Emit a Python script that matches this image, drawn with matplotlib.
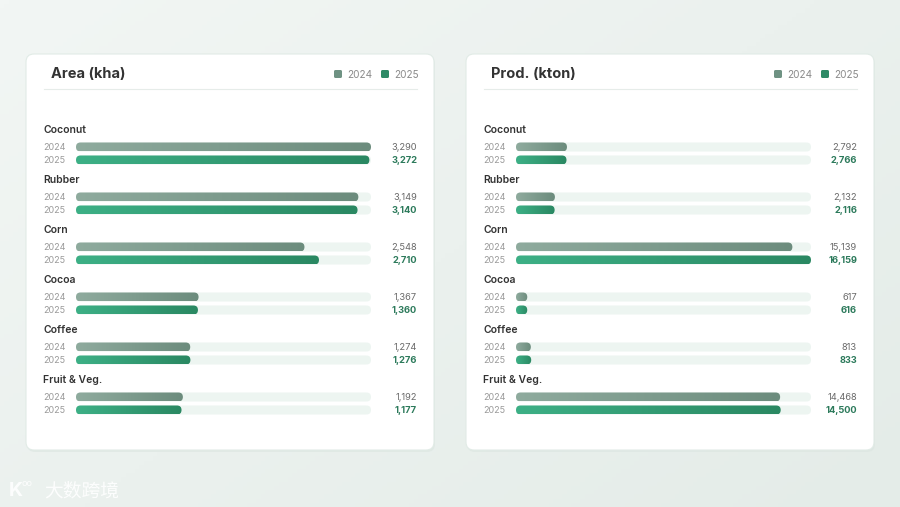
import numpy as np
import matplotlib.pyplot as plt
from matplotlib.patches import FancyBboxPatch
from matplotlib.colors import LinearSegmentedColormap

plt.rcParams['font.family'] = ['Inter', 'Noto Sans CJK SC', 'DejaVu Sans']

crops = ['Coconut', 'Rubber', 'Corn', 'Cocoa', 'Coffee', 'Fruit & Veg.']
years = ['2024', '2025']

area_2024 = [3290, 3149, 2548, 1367, 1274, 1192]
area_2025 = [3272, 3140, 2710, 1360, 1276, 1177]
prod_2024 = [2792, 2132, 15139, 617, 813, 14468]
prod_2025 = [2766, 2116, 16159, 616, 833, 14500]

panels = [
    ('Area (kha)', area_2024, area_2025),
    ('Prod. (kton)', prod_2024, prod_2025),
]

W, H = 900, 507
TRACK_W = 295

grad_24 = LinearSegmentedColormap.from_list('g24', ['#8fab9e', '#6c8c7d'])
grad_25 = LinearSegmentedColormap.from_list('g25', ['#3db086', '#2a8862'])
c24, c25 = '#6f9283', '#2e8a66'
track_c = '#edf5f1'

fig = plt.figure(figsize=(W / 100, H / 100), dpi=100)

# background in pixel coordinates
bg = fig.add_axes([0, 0, 1, 1])
bg.axis('off')
gx, gy = np.meshgrid(np.linspace(0, 1, 200), np.linspace(0, 1, 120))
bg_cmap = LinearSegmentedColormap.from_list('bg', ['#f2f6f4', '#e4ece8'])
bg.imshow(0.55 * gx + 0.45 * gy, cmap=bg_cmap, extent=(0, W, H, 0), aspect='auto', zorder=0)
bg.set_xlim(0, W)
bg.set_ylim(H, 0)


def rounded_bar(ax, x0, y, length, h, cmap, vmax, aspect, z):
    r = min(4.5 * vmax / TRACK_W, length / 2)
    solid = isinstance(cmap, str)
    patch = FancyBboxPatch((x0, y - h / 2), length, h,
                           boxstyle=f'round,pad=0,rounding_size={r}',
                           mutation_aspect=aspect, linewidth=0,
                           facecolor=cmap if solid else 'none', zorder=z)
    ax.add_patch(patch)
    if not solid:
        grad = np.linspace(0, 1, 256).reshape(1, -1)
        im = ax.imshow(grad, cmap=cmap, extent=(x0, x0 + length, y + h / 2, y - h / 2),
                       aspect='auto', zorder=z + 0.1, interpolation='bilinear')
        im.set_clip_path(patch)
    return patch


for p, (title, v24, v25) in enumerate(panels):
    left = 26 + p * 440
    # card
    shadow = FancyBboxPatch((left + 1, 56), 408, 396, boxstyle='round,pad=0,rounding_size=8',
                            facecolor='#dbe5e0', edgecolor='none', alpha=0.6, zorder=1)
    bg.add_patch(shadow)
    card = FancyBboxPatch((left, 54), 408, 396, boxstyle='round,pad=0,rounding_size=8',
                          facecolor='white', edgecolor='#e1ebe6', linewidth=0.8, zorder=2)
    bg.add_patch(card)

    bg.text(left + 25, 74, title, fontsize=10.5, fontweight='bold', color='#333333',
            va='center', ha='left', zorder=3)
    # legend
    for k, (yr, col) in enumerate(zip(years, [c24, c25])):
        lx = left + 308 + k * 47
        bg.add_patch(FancyBboxPatch((lx, 70), 8, 8, boxstyle='round,pad=0,rounding_size=1.5',
                                    facecolor=col, edgecolor='none', zorder=3))
        bg.text(lx + 13, 74.5, yr, fontsize=7.2, color='#8a8a8a', va='center', ha='left', zorder=3)
    bg.plot([left + 18, left + 391], [89, 89], color='#e6ece9', lw=0.8, zorder=3)

    for i, crop in enumerate(crops):
        cy = 130 + 50 * i
        bg.text(left + 17, cy, crop, fontsize=7.5, fontweight='semibold', color='#333333',
                va='center', ha='left', zorder=3)
        for j, yr in enumerate(years):
            bg.text(left + 17, cy + 17.5 + 13 * j, yr, fontsize=6.5, color='#9a9a9a',
                    va='center', ha='left', zorder=3)

    # bar axes: x in data units, y in pixel units
    top, bottom = 120, 420
    ax = fig.add_axes([(left + 50) / W, 1 - bottom / H, TRACK_W / W, (bottom - top) / H])
    ax.axis('off')
    vmax = max(max(v24), max(v25))
    aspect = TRACK_W / vmax
    for i, crop in enumerate(crops):
        cy = 130 + 50 * i
        for j, (vals, cmap, vcol, wt) in enumerate([(v24, grad_24, '#6a6a6a', 'normal'),
                                                    (v25, grad_25, '#2c7a5b', 'bold')]):
            y = cy + 17 + 13 * j
            rounded_bar(ax, 0, y, vmax, 9, track_c, vmax, aspect, 1)
            rounded_bar(ax, 0, y, vals[i], 9, cmap, vmax, aspect, 2)
            ax.annotate(f'{vals[i]:,}', xy=(vmax, y + 0.5), xytext=(46, 0),
                        textcoords='offset pixels', fontsize=6.7, color=vcol, fontweight=wt,
                        va='center', ha='right', annotation_clip=False)
    ax.set_xlim(0, vmax)
    ax.set_ylim(bottom, top)

# watermark
bg.text(9, 491, 'K', fontsize=14, color='white', alpha=0.9, va='center', ha='left',
        fontweight='bold', zorder=4)
bg.text(22, 484, 'oo', fontsize=6.5, color='white', alpha=0.9, va='center', ha='left', zorder=4)
bg.text(44, 491, '大数跨境', fontsize=13.5, color='white', alpha=0.9, va='center', ha='left',
        family=['Noto Sans CJK SC', 'DejaVu Sans'], zorder=4)

fig.savefig('out.png', dpi=100)
